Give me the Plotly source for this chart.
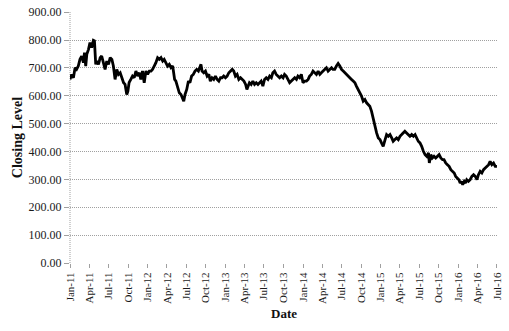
import pandas as pd
import plotly.graph_objects as go

start_date = "2011-01-01"
# days after start_date
day_offsets = [
    0, 8, 16, 24, 31, 39, 47, 55, 63, 68, 74, 79, 87, 94, 102, 110, 115, 121, 127, 134,
    142, 149, 157, 165, 173, 181, 189, 197, 204, 212, 220, 228, 236, 244, 252, 259, 267, 272, 278, 286,
    294, 302, 310, 318, 326, 333, 341, 349, 357, 365, 373, 381, 388, 396, 404, 412, 420, 428, 436, 443,
    451, 459, 467, 475, 483, 492,
    498, 506, 514, 522, 530, 535, 541, 549, 557, 564, 572, 580, 588, 596, 604, 612, 616, 621, 629, 637,
    645, 653, 660, 668, 676, 684, 692, 700, 708, 715, 723, 731, 739, 747, 755, 763, 770, 778, 786, 794,
    802, 810, 818, 826, 832, 838, 844, 852, 860, 868, 876, 884, 892, 899, 907, 915, 923, 931, 939, 947,
    954, 962, 970, 978, 986,
    994, 1002, 1009, 1017, 1025, 1033, 1041, 1049, 1057, 1065, 1072, 1080, 1088, 1096, 1104, 1112, 1120, 1127, 1135, 1143,
    1151, 1159, 1167, 1175, 1182, 1190, 1198, 1206, 1214, 1222, 1230, 1237, 1245, 1253, 1261, 1269, 1277, 1285, 1292, 1300,
    1308, 1316, 1324, 1332, 1340, 1347, 1355, 1363, 1371, 1379, 1387, 1395, 1403, 1410, 1418, 1426, 1434, 1442, 1450, 1458,
    1465, 1473, 1481,
    1489, 1497, 1505, 1513, 1520, 1528, 1536, 1544, 1552, 1560, 1568, 1575, 1583, 1591, 1599, 1607, 1615, 1623, 1630, 1638,
    1646, 1654, 1662, 1670, 1678, 1686, 1690, 1697, 1704, 1712, 1720, 1728, 1736, 1744, 1752, 1759, 1767, 1775, 1783, 1791,
    1799, 1807, 1814, 1822, 1829, 1835, 1841, 1847, 1854, 1860, 1866, 1874, 1882, 1890, 1898, 1906, 1914, 1921, 1929, 1937,
    1945, 1953, 1961, 1969, 1976, 1984, 1992, 2000, 2008,
]
closing_level = [
    659, 677, 665, 701, 695, 707, 731, 743, 719, 755, 707, 749, 767, 791, 773, 799, 797, 713, 725, 713,
    737, 743, 719, 695, 725, 713, 737, 731, 707, 659, 695, 677, 683, 665, 647, 641, 605, 616, 648, 659,
    671, 665, 689, 671, 683, 659, 689, 647, 689, 677, 689, 689, 695, 707, 719, 737, 731, 737, 725, 731,
    719, 707, 713, 701, 707, 659,
    653, 635, 611, 605, 587, 581, 605, 623, 653, 647, 671, 677, 689, 695, 689, 707, 713, 689, 683, 689,
    671, 677, 653, 665, 659, 671, 659, 653, 665, 665, 671, 665, 671, 683, 689, 695, 689, 671, 677, 659,
    665, 659, 653, 641, 623, 635, 647, 641, 653, 641, 647, 641, 647, 653, 635, 659, 665, 659, 671, 665,
    683, 689, 677, 671, 665,
    671, 665, 677, 671, 659, 647, 653, 659, 665, 659, 671, 665, 677, 647, 653, 653, 659, 671, 677, 689,
    683, 677, 689, 677, 683, 689, 695, 701, 689, 695, 701, 695, 695, 707, 716, 707, 695, 689, 683, 677,
    671, 665, 659, 653, 647, 635, 623, 611, 599, 581, 587, 575, 569, 563, 545, 515, 485, 467, 449, 443,
    431, 419, 440,
    461, 455, 461, 449, 437, 443, 449, 443, 455, 461, 467, 473, 467, 461, 455, 461, 455, 461, 449, 437,
    431, 419, 401, 389, 383, 395, 359, 389, 377, 383, 377, 383, 389, 377, 371, 371, 359, 353, 347, 335,
    329, 323, 311, 305, 299, 287, 293, 281, 293, 287, 299, 293, 299, 311, 317, 311, 299, 317, 329, 323,
    335, 341, 347, 353, 365, 353, 359, 347, 347,
]

y_ticks = [0, 100, 200, 300, 400, 500, 600, 700, 800, 900]
x_tick_dates = [
    "2011-01-01", "2011-04-01", "2011-07-01", "2011-10-01",
    "2012-01-01", "2012-04-01", "2012-07-01", "2012-10-01",
    "2013-01-01", "2013-04-01", "2013-07-01", "2013-10-01",
    "2014-01-01", "2014-04-01", "2014-07-01", "2014-10-01",
    "2015-01-01", "2015-04-01", "2015-07-01", "2015-10-01",
    "2016-01-01", "2016-04-01", "2016-07-01",
]
x_tick_labels = [
    "Jan-11", "Apr-11", "Jul-11", "Oct-11",
    "Jan-12", "Apr-12", "Jul-12", "Oct-12",
    "Jan-13", "Apr-13", "Jul-13", "Oct-13",
    "Jan-14", "Apr-14", "Jul-14", "Oct-14",
    "Jan-15", "Apr-15", "Jul-15", "Oct-15",
    "Jan-16", "Apr-16", "Jul-16",
]
x_range = ["2011-01-01", "2016-07-01 06:00"]

dates = pd.Timestamp(start_date) + pd.to_timedelta(day_offsets, unit="D")

FONT = "Liberation Serif"
GRID = "#a0a0a0"
TXT = "#1a1a1a"

fig = go.Figure()
fig.add_trace(go.Scatter(
    x=dates, y=closing_level, mode="lines",
    line=dict(color="black", width=2.8),
    showlegend=False,
))

fig.update_layout(
    width=509, height=331,
    margin=dict(l=70, r=12, t=12, b=68),
    paper_bgcolor="white", plot_bgcolor="white",
    font=dict(family=FONT, size=11, color=TXT),
)
fig.update_xaxes(
    type="date", range=x_range,
    tickvals=x_tick_dates, ticktext=x_tick_labels, tickangle=-90,
    ticklabeloverflow="allow",
    showgrid=False, zeroline=False, showline=False,
    ticks="outside", ticklen=4, tickcolor=GRID,
    tickfont=dict(family=FONT, size=11, color=TXT),
    automargin=False,
)
fig.update_yaxes(
    range=[0, 901], tickvals=y_ticks, tickformat=".2f",
    ticklabeloverflow="allow",
    showgrid=True, gridcolor=GRID, griddash="1px,1px", gridwidth=1,
    zeroline=False, showline=False,
    ticks="outside", ticklen=5, tickcolor=GRID,
    tickfont=dict(family=FONT, size=12, color=TXT),
    title=dict(text="Closing Level", font=dict(family=FONT, size=14, color="#111111", weight="bold"), standoff=2),
    automargin=False,
)
fig.add_annotation(
    text="Date", xref="paper", yref="paper", x=0.5, y=-0.2,
    xanchor="center", yanchor="middle", showarrow=False,
    font=dict(family=FONT, size=13, color="#111111", weight="bold"),
)
fig.add_shape(type="line", xref="paper", yref="paper", x0=0, x1=0, y0=0, y1=1,
              line=dict(color=GRID, width=1, dash="1px,1px"), layer="below")

# remove the browser's default body margin so the figure fills the window exactly
fig.write_html(
    "out.html",
    config={"displayModeBar": False},
    post_script="document.body.style.margin='0';",
)
